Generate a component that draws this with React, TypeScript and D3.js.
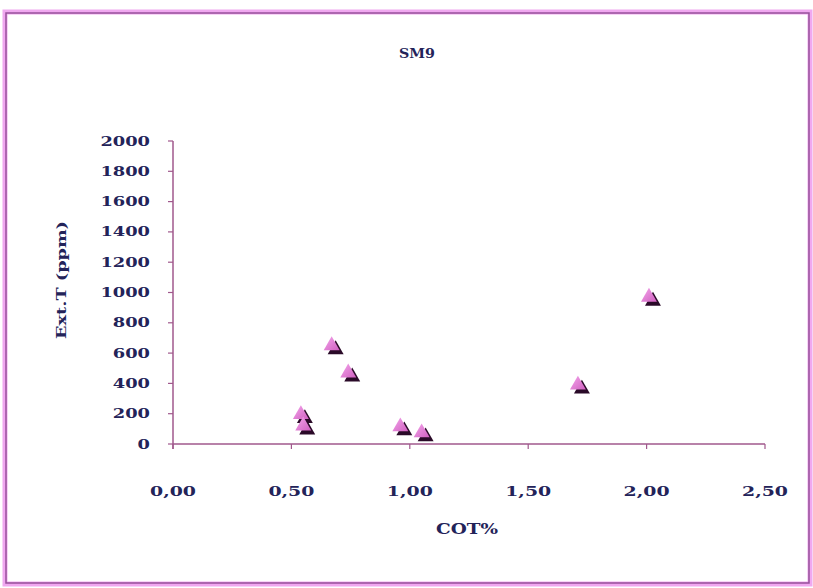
import React from "react";
import * as d3 from "d3";

const title = "SM9";
const xLabel = "COT%";
const yLabel = "Ext.T (ppm)";
const cot = [0.67, 0.74, 0.54, 0.55, 0.96, 1.05, 1.71, 2.01];
const extT = [650, 470, 195, 120, 115, 75, 390, 970];
const xTicks = [0, 0.5, 1.0, 1.5, 2.0, 2.5];
const yTicks = [0, 200, 400, 600, 800, 1000, 1200, 1400, 1600, 1800, 2000];

const W = 813;
const H = 588;
const TEXT = "#232359";
const AXIS = "#a0588c";
const FONT = "'DejaVu Serif', serif";

export default function App() {
  const x = d3.scaleLinear().domain([0, 2.5]).range([173, 765]);
  const y = d3.scaleLinear().domain([0, 2000]).range([444, 141]);
  const fmt = (v: number) => v.toFixed(2).replace(".", ",");
  const tri = d3.symbol().type(d3.symbolTriangle).size(110);
  const pts = cot.map((c, i) => ({ c, v: extT[i] }));
  return (
    <svg width={W} height={H} style={{ position: "absolute", left: 0, top: 0, background: "#fff" }}>
      <defs>
        <linearGradient id="tg" x1="0" y1="0" x2="1" y2="1">
          <stop offset="0" stopColor="#f4a6ec" />
          <stop offset="1" stopColor="#d060c0" />
        </linearGradient>
      </defs>
      <rect x={0} y={0} width={W} height={H} fill="#fff" />
      <rect x={5} y={12} width={W - 8} height={H - 16} fill="none" stroke="#f0a8f0" strokeWidth={5} />
      <rect x={6} y={13} width={W - 10} height={H - 18} fill="none" stroke="#96509a" strokeWidth={1.5} />
      <text x={417} y={58} textAnchor="middle" fontFamily={FONT} fontWeight="bold" fontSize={13} fill={TEXT} textLength={36} lengthAdjust="spacingAndGlyphs">{title}</text>
      {/* axes */}
      <line x1={x(0)} x2={x(2.5)} y1={y(0)} y2={y(0)} stroke={AXIS} strokeWidth={1.5} />
      <line x1={x(0)} x2={x(0)} y1={y(0) + 5} y2={y(2000)} stroke={AXIS} strokeWidth={1.5} />
      {yTicks.map((t) => (
        <g key={"y" + t}>
          <line x1={x(0) - 5} x2={x(0)} y1={y(t)} y2={y(t)} stroke={AXIS} strokeWidth={1.2} />
          <text x={150} y={y(t) + 4.5} textAnchor="end" fontFamily={FONT} fontWeight="bold" fontSize={12} fill={TEXT}
            textLength={String(t).length * 12.4} lengthAdjust="spacingAndGlyphs">{t}</text>
        </g>
      ))}
      {xTicks.map((t) => (
        <g key={"x" + t}>
          <line x1={x(t)} x2={x(t)} y1={y(0)} y2={y(0) + 5} stroke={AXIS} strokeWidth={1.2} />
          <text x={x(t)} y={496} textAnchor="middle" fontFamily={FONT} fontWeight="bold" fontSize={12} fill={TEXT}
            textLength={46} lengthAdjust="spacingAndGlyphs">{fmt(t)}</text>
        </g>
      ))}
      <text x={467} y={534} textAnchor="middle" fontFamily={FONT} fontWeight="bold" fontSize={14} fill={TEXT} textLength={62} lengthAdjust="spacingAndGlyphs">{xLabel}</text>
      <text transform={`translate(66,280) rotate(-90)`} textAnchor="middle" fontFamily={FONT} fontWeight="bold" fontSize={13} fill={TEXT} textLength={118} lengthAdjust="spacingAndGlyphs">{yLabel}</text>
      {pts.map((p, i) => (
        <g key={"p" + i} transform={`translate(${x(p.c)},${y(p.v)})`}>
          <path d={tri() as string} transform="translate(4,4)" fill="#2a0a28" />
          <path d={tri() as string} fill="url(#tg)" />
        </g>
      ))}
    </svg>
  );
}
